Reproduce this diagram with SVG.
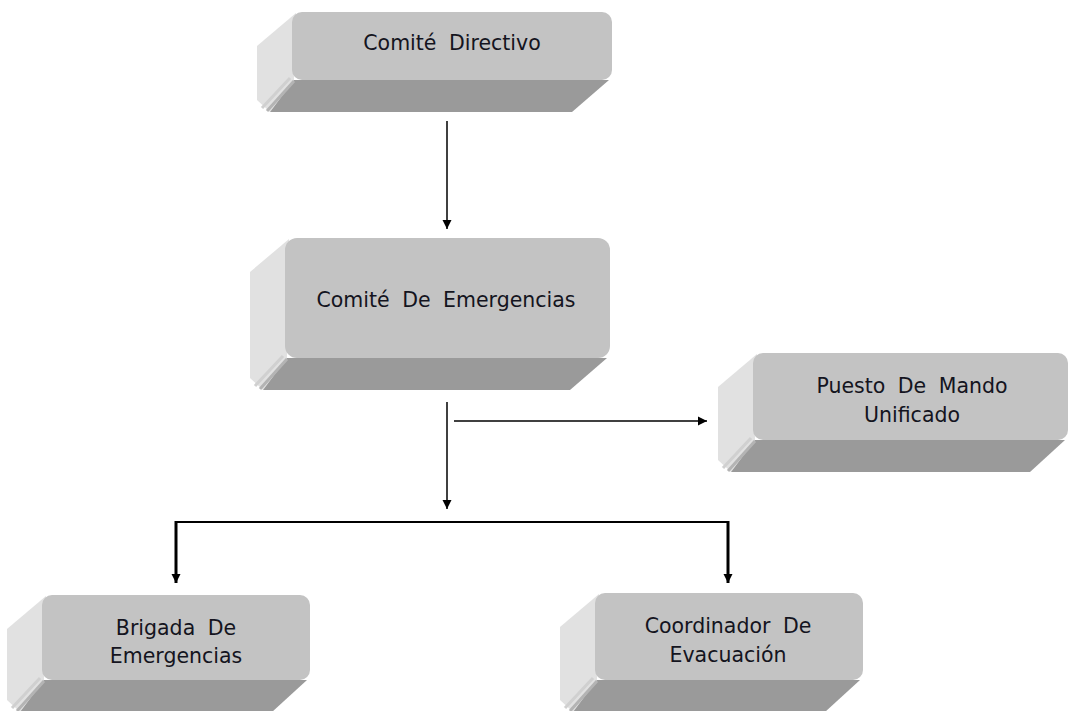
<svg xmlns="http://www.w3.org/2000/svg" width="1070" height="711" viewBox="0 0 1070 711">
<style>
.front{fill:#C3C3C3;}
.side{fill:#E1E1E1;}
.bottom{fill:#9A9A9A;}
.s1{stroke:#D0D0D0;stroke-width:3;fill:none;}
.s2{stroke:#B4B4B4;stroke-width:3;fill:none;}
.lbl{font-family:"DejaVu Sans",Verdana,sans-serif;font-size:20.5px;fill:#141420;text-anchor:middle;word-spacing:6px;}
.c{stroke:#000;fill:none;stroke-width:1.5;}
.cb{stroke:#000;fill:none;stroke-width:2;}
.ct{stroke:#000;fill:none;stroke-width:3;}
</style>
<defs>
<marker id="ah" markerUnits="userSpaceOnUse" markerWidth="10" markerHeight="10" refX="9" refY="5" orient="auto">
<path d="M0,0.5 L9,5 L0,9.5 z" fill="#000"/>
</marker>
</defs>
<rect width="1070" height="711" fill="#fff"/>

<g id="n1">
<polygon class="side" points="296,13 257,46 257,100 270,112 294,80"/>
<polygon class="bottom" points="294,80 609,80 572,112 270,112"/>
<line class="s1" x1="290" y1="78" x2="262" y2="108"/>
<line class="s2" x1="294" y1="81" x2="267" y2="111"/>
<rect class="front" x="292" y="12" width="320" height="68" rx="10"/>
<text class="lbl" x="452" y="50">Comité Directivo</text>
</g>

<g id="n2">
<polygon class="side" points="289,239 250,272 250,378 263,390 287,358"/>
<polygon class="bottom" points="287,358 607,358 570,390 263,390"/>
<line class="s1" x1="283" y1="356" x2="255" y2="386"/>
<line class="s2" x1="287" y1="359" x2="260" y2="389"/>
<rect class="front" x="285" y="238" width="325" height="120" rx="12"/>
<text class="lbl" x="446" y="307">Comité De Emergencias</text>
</g>

<g id="n3">
<polygon class="side" points="757,354 718,387 718,460 731,472 755,440"/>
<polygon class="bottom" points="755,440 1065,440 1030,472 731,472"/>
<line class="s1" x1="751" y1="438" x2="723" y2="468"/>
<line class="s2" x1="755" y1="441" x2="728" y2="471"/>
<rect class="front" x="753" y="353" width="315" height="87" rx="10"/>
<text class="lbl" x="912" y="393">Puesto De Mando</text>
<text class="lbl" x="912" y="422">Unificado</text>
</g>

<g id="n4">
<polygon class="side" points="46,596 7,629 7,700 20,712 44,680"/>
<polygon class="bottom" points="44,680 307,680 272,712 20,712"/>
<line class="s1" x1="40" y1="678" x2="12" y2="708"/>
<line class="s2" x1="44" y1="681" x2="17" y2="711"/>
<rect class="front" x="42" y="595" width="268" height="85" rx="10"/>
<text class="lbl" x="176" y="635">Brigada De</text>
<text class="lbl" x="176" y="663">Emergencias</text>
</g>

<g id="n5">
<polygon class="side" points="599,594 560,627 560,700 573,712 597,680"/>
<polygon class="bottom" points="597,680 860,680 825,712 573,712"/>
<line class="s1" x1="593" y1="678" x2="565" y2="708"/>
<line class="s2" x1="597" y1="681" x2="570" y2="711"/>
<rect class="front" x="595" y="593" width="268" height="87" rx="10"/>
<text class="lbl" x="728" y="633">Coordinador De</text>
<text class="lbl" x="728" y="662">Evacuación</text>
</g>

<g id="connectors">
<line class="c" x1="447" y1="121" x2="447" y2="229" marker-end="url(#ah)"/>
<line class="c" x1="447" y1="402" x2="447" y2="509" marker-end="url(#ah)"/>
<line class="c" x1="454" y1="421" x2="707" y2="421" marker-end="url(#ah)"/>
<line class="cb" x1="175" y1="522" x2="729" y2="522"/>
<line class="ct" x1="176" y1="521" x2="176" y2="583" marker-end="url(#ah)"/>
<line class="ct" x1="728" y1="521" x2="728" y2="583" marker-end="url(#ah)"/>
</g>
</svg>
